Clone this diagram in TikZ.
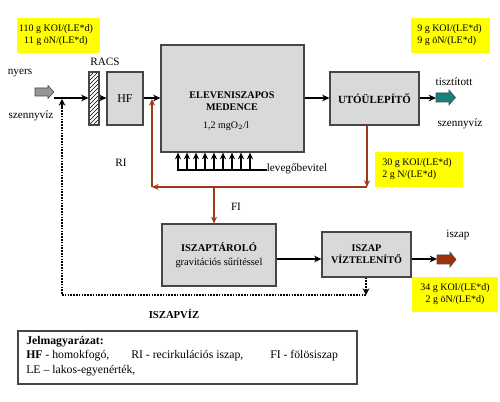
\documentclass[tikz,border=0pt]{standalone}
\usepackage{fontspec}
\setmainfont{Liberation Serif}
\usetikzlibrary{arrows.meta,patterns}
\definecolor{boxgray}{RGB}{217,217,217}
\definecolor{boxedge}{RGB}{70,70,70}
\definecolor{ybox}{RGB}{255,255,0}
\definecolor{brownline}{RGB}{158,58,28}
\definecolor{sludge}{RGB}{160,48,14}
\definecolor{tealarrow}{RGB}{20,130,130}
\definecolor{arrgray}{RGB}{150,150,150}
\begin{document}
\begin{tikzpicture}[x=0.75pt,y=-0.75pt,
  unit/.style={draw=boxedge,fill=boxgray,line width=0.8pt,inner sep=0pt},
  flow/.style={line width=1.8pt,-{Stealth[length=5.5pt,width=5pt]}},
  thinflow/.style={line width=1.1pt,-{Stealth[length=5.5pt,width=5pt]}},
  brownflow/.style={brownline,line width=1.2pt,-{Stealth[length=5pt,width=4.5pt]}},
  dotl/.style={line width=1.6pt,dash pattern=on 1.2pt off 0.9pt},
  dotflow/.style={dotl,-{Stealth[length=5pt,width=5pt]}},
  lbl/.style={font=\fontsize{8.4pt}{10pt}\selectfont,inner sep=0pt},
  legtxt/.style={font=\fontsize{8.8pt}{10pt}\selectfont,inner sep=0pt,anchor=west},
  btxt/.style={font=\fontsize{7.6pt}{9pt}\selectfont\bfseries,align=center},
  ytxt/.style={font=\fontsize{7.5pt}{9pt}\selectfont,inner sep=0pt},
  blk/.style={draw=boxedge,line width=0.4pt}
]
\useasboundingbox (0,0) rectangle (500,402);
% yellow boxes
\fill[ybox] (17,18) rectangle (100,53);
\node[ytxt,align=center] (y1) at (56,35.5) {110 g KOI/(LE*d)\\11 g öN/(LE*d)};
\fill[ybox] (411,18) rectangle (490,53);
\node[ytxt,align=left,anchor=west] (y2) at (417,35.5) {9 g KOI/(LE*d)\\9 g öN/(LE*d)};
\fill[ybox] (375,152) rectangle (463,187);
\node[ytxt,align=left,anchor=west] (y3) at (382,169.5) {30 g KOI/(LE*d)\\2 g N/(LE*d)};
\fill[ybox] (412,277) rectangle (498,312);
\node[ytxt,align=center] (y4) at (455,294.5) {34 g KOI/(LE*d)\\2 g öN/(LE*d)};
% units
\node[draw=boxedge,line width=0.8pt,pattern=north east lines,minimum width=10*0.75pt,minimum height=53*0.75pt,inner sep=0pt] (racs) at (94,98.5) {};
\node[unit,minimum width=36*0.75pt,minimum height=53*0.75pt] (hf) at (125,98.5) {};
\node[font=\fontsize{9pt}{10pt}\selectfont] at (hf) {HF};
\node[unit,minimum width=143*0.75pt,minimum height=107*0.75pt] (el) at (232.5,98.5) {};
\node[btxt] at (232,101) {ELEVENISZAPOS\\MEDENCE};
\node[ytxt] at (226,126) {1,2 mgO$_2$/l};
\node[unit,minimum width=89*0.75pt,minimum height=53*0.75pt] (ut) at (374.5,98.5) {};
\node[btxt,font=\fontsize{8.2pt}{9pt}\selectfont\bfseries] at (ut) {UTÓÜLEPÍTŐ};
\node[unit,minimum width=114*0.75pt,minimum height=62*0.75pt] (tar) at (219,255) {};
\node[font=\fontsize{7.8pt}{10pt}\selectfont,align=center] at (219,255) {\textbf{ISZAPTÁROLÓ}\\gravitációs sűrítéssel};
\node[unit,minimum width=89*0.75pt,minimum height=45*0.75pt] (vz) at (366.5,254.5) {};
\node[btxt] at (vz) {ISZAP\\VÍZTELENÍTŐ};
% block arrows
\filldraw[blk,fill=arrgray] (35,88) -- (48,88) -- (48,85.5) -- (54,92) -- (48,98.5) -- (48,96) -- (35,96) -- cycle;
\coordinate (inend) at (54,98);
\filldraw[blk,fill=tealarrow] (436,93) -- (449,93) -- (449,90) -- (455.5,97.5) -- (449,105) -- (449,102) -- (436,102) -- cycle;
\coordinate (outstart) at (436,98);
\filldraw[blk,fill=sludge] (437,255) -- (450,255) -- (450,252) -- (456,259.5) -- (450,267) -- (450,264) -- (437,264) -- cycle;
\coordinate (slstart) at (437,259);
% labels
\node[lbl] at (105,62) {RACS};
\node[lbl] at (20,73) {nyers};
\node[lbl] at (31,116) {szennyvíz};
\node[lbl] at (121,163) {RI};
\node[lbl] at (236,207) {FI};
\node[lbl] at (297,169) {levegőbevitel};
\node[lbl] at (454,82) {tisztított};
\node[lbl] at (460,124) {szennyvíz};
\node[lbl] at (458,235) {iszap};
\node[lbl,font=\fontsize{8pt}{9pt}\selectfont\bfseries] at (174,314) {ISZAPVÍZ};
% main flow
\draw[flow] (inend) -- (racs.west |- inend);
\draw[flow] (racs.east |- inend) -- (hf.west |- inend);
\draw[flow] (hf.east |- inend) -- (el.west |- inend);
\draw[flow] (el.east |- inend) -- (ut.west |- inend);
\draw[flow] (ut.east |- inend) -- (outstart);
\draw[thinflow] (tar.east |- slstart) -- (vz.west |- slstart);
\draw[thinflow] (vz.east |- slstart) -- (slstart);
% aeration
\foreach \i in {0,...,8} {
  \draw[line width=1.4pt,-{Stealth[length=5pt,width=4.5pt]}] (178+\i*9,170) -- (178+\i*9,152.6);
}
\draw[line width=1pt] (177,170) -- (267,170);
% recirculation
\coordinate (rc1) at (367,187);
\coordinate (rc2) at (152,187);
\coordinate (rc3) at (152,99);
\coordinate (fi1) at (214,187);
\draw[brownflow] (ut.south -| rc1) -- (rc1);
\draw[brownflow] (rc1) -- (rc2);
\draw[brownflow] (rc2) -- (rc3);
\draw[brownflow] (fi1) -- (tar.north -| fi1);
% sludge water
\coordinate (sw1) at (366,295);
\coordinate (sw2) at (62,295);
\coordinate (sw3) at (62,99);
\coordinate (sw4) at (62,106);
\draw[dotflow] (vz.south -| sw1) -- (sw1);
\draw[dotl] (sw1) -- (sw2) -- (sw4);
\draw[dotflow] (sw4) -- (sw3);
% legend
\node[draw=boxedge,line width=0.8pt,minimum width=339*0.75pt,minimum height=53*0.75pt,inner sep=0pt] (leg) at (187.5,357.5) {};
\node[legtxt] at (26,342) {\textbf{Jelmagyarázat:}};
\node[legtxt] at (26,355.5) {\textbf{HF} - homokfogó,};
\node[legtxt] at (131,355.5) {RI - recirkulációs iszap,};
\node[legtxt] at (270,355.5) {FI - fölösiszap};
\node[legtxt] at (26,371) {LE -- lakos-egyenérték,};
\end{tikzpicture}
\end{document}
